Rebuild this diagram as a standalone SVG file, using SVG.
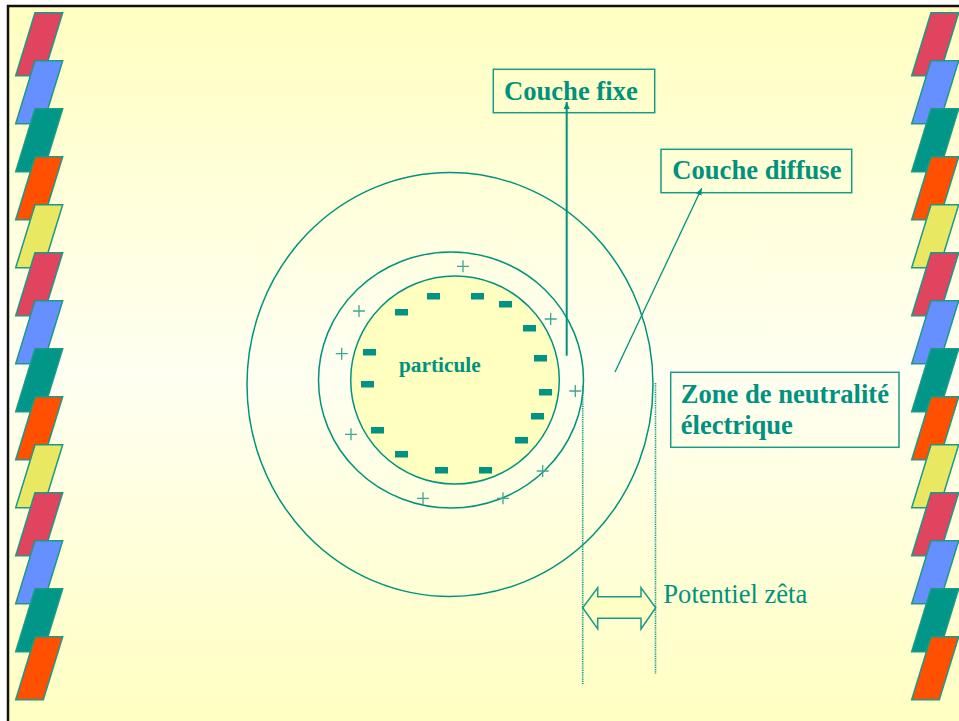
<svg xmlns="http://www.w3.org/2000/svg" width="959" height="721" viewBox="0 0 959 721">
  <defs>
    <linearGradient id="bg" x1="0" y1="0" x2="0" y2="1">
      <stop offset="0" stop-color="#FFFFC0"/>
      <stop offset="0.5" stop-color="#FFFFF2"/>
      <stop offset="1" stop-color="#FFFFC0"/>
    </linearGradient>
    <marker id="tip" markerWidth="8" markerHeight="8" refX="7" refY="4" orient="auto" markerUnits="userSpaceOnUse">
      <path d="M0,1 L7,4 L0,7 Z" fill="#00927F"/>
    </marker>
    <!-- one slanted tile of the side strips -->
    <path id="tile" d="M35,12.7 H62.7 L43.3,75.7 H15.7 Z" stroke="#1A9A88" stroke-width="1.5"/>
  </defs>
  <style>
    .lbl { font-family: "Liberation Serif", "Times New Roman", serif; fill: #00927F; }
    .b { font-weight: bold; }
    .box { fill: none; stroke: #1A9A88; stroke-width: 1.5; }
    .ring { fill: none; stroke: #00927F; stroke-width: 1.5; }
    .neg { fill: #009384; }
    .pos { stroke: #3FA596; stroke-width: 1.3; fill: none; }
    .dot { stroke: #0E9484; stroke-width: 1.6; stroke-dasharray: 1.2 1; fill: none; }
    .red { fill: #E0445E; } .blue { fill: #6690FF; } .teal { fill: #009688; }
    .orange { fill: #FF5000; } .yellow { fill: #E8E862; }
  </style>

  <!-- slide background with frame -->
  <rect x="0" y="0" width="959" height="721" fill="#FFFFFF"/>
  <rect x="8" y="6" width="960" height="730" fill="url(#bg)"/>
  <path d="M8,730 V6 H960" fill="none" stroke="#111111" stroke-width="2.5"/>

  <!-- left strip -->
  <g id="strip-left">
    <use href="#tile" class="red" y="0"/>
    <use href="#tile" class="blue" y="48"/>
    <use href="#tile" class="teal" y="96"/>
    <use href="#tile" class="orange" y="144"/>
    <use href="#tile" class="yellow" y="192"/>
    <use href="#tile" class="red" y="240"/>
    <use href="#tile" class="blue" y="288"/>
    <use href="#tile" class="teal" y="336"/>
    <use href="#tile" class="orange" y="384"/>
    <use href="#tile" class="yellow" y="432"/>
    <use href="#tile" class="red" y="480"/>
    <use href="#tile" class="blue" y="528"/>
    <use href="#tile" class="teal" y="576"/>
    <use href="#tile" class="orange" y="624"/>
  </g>

  <!-- right strip -->
  <g id="strip-right" transform="translate(896,0)">
    <use href="#tile" class="red" y="0"/>
    <use href="#tile" class="blue" y="48"/>
    <use href="#tile" class="teal" y="96"/>
    <use href="#tile" class="orange" y="144"/>
    <use href="#tile" class="yellow" y="192"/>
    <use href="#tile" class="red" y="240"/>
    <use href="#tile" class="blue" y="288"/>
    <use href="#tile" class="teal" y="336"/>
    <use href="#tile" class="orange" y="384"/>
    <use href="#tile" class="yellow" y="432"/>
    <use href="#tile" class="red" y="480"/>
    <use href="#tile" class="blue" y="528"/>
    <use href="#tile" class="teal" y="576"/>
    <use href="#tile" class="orange" y="624"/>
  </g>

  <!-- diffuse layer (outer ring) -->
  <g id="diffuse-layer">
    <ellipse class="ring" cx="450" cy="384.5" rx="203" ry="212"/>
  </g>

  <!-- fixed layer (middle ring) with positive charges -->
  <g id="fixed-layer">
    <ellipse class="ring" cx="451" cy="380" rx="132.5" ry="128"/>
    <path class="pos" d="M457,266.3 h12 M463,260.3 v12
                         M353,311 h12 M359,305 v12
                         M544.7,319 h12 M550.7,313 v12
                         M335.7,353.7 h12 M341.7,347.7 v12
                         M569.3,391 h12 M575.3,385 v12
                         M345,434.3 h12 M351,428.3 v12
                         M536.7,471 h12 M542.7,465 v12
                         M417,498.3 h12 M423,492.3 v12
                         M497,498.3 h12 M503,492.3 v12"/>
  </g>

  <!-- particle with negative surface charges -->
  <g id="particle">
    <ellipse cx="455" cy="380" rx="104.3" ry="104" fill="#FFFFC0" stroke="#00927F" stroke-width="1.5"/>
    <g class="neg">
      <rect x="427" y="293" width="13" height="6.5"/>
      <rect x="471" y="293" width="13" height="6.5"/>
      <rect x="499" y="301" width="13" height="6.5"/>
      <rect x="523" y="325" width="13" height="6.5"/>
      <rect x="534" y="355" width="13" height="6.5"/>
      <rect x="539" y="389" width="13" height="6.5"/>
      <rect x="531" y="413" width="13" height="6.5"/>
      <rect x="515" y="437" width="13" height="6.5"/>
      <rect x="479" y="467" width="13" height="6.5"/>
      <rect x="435" y="467" width="13" height="6.5"/>
      <rect x="395" y="451" width="13" height="6.5"/>
      <rect x="371" y="427" width="13" height="6.5"/>
      <rect x="361" y="381" width="13" height="6.5"/>
      <rect x="363" y="349" width="13" height="6.5"/>
      <rect x="395" y="309" width="13" height="6.5"/>
    </g>
    <text class="lbl b" x="399" y="372" font-size="21.3">particule</text>
  </g>

  <!-- labels -->
  <g id="label-couche-fixe">
    <rect class="box" x="493.3" y="69.3" width="161.4" height="43.4"/>
    <text class="lbl b" x="504" y="100" font-size="26.6">Couche fixe</text>
  </g>
  <g id="label-couche-diffuse">
    <rect class="box" x="661" y="149.3" width="190.7" height="43.4"/>
    <text class="lbl b" x="672.3" y="179.3" font-size="26.6">Couche diffuse</text>
  </g>
  <g id="label-zone">
    <rect class="box" x="670.7" y="372.3" width="228.3" height="75"/>
    <text class="lbl b" x="680.7" y="403.3" font-size="26.6">Zone de neutralité</text>
    <text class="lbl b" x="680.7" y="434" font-size="26.6">électrique</text>
  </g>
  <g id="label-zeta">
    <path d="M582.7,607.7 L597.7,587.7 V596.7 H641 V587.7 L655.7,607.7 L641,629 V618.3 H597.7 V629 Z"
          fill="#FFFFC4" stroke="#1A9A88" stroke-width="1.5" stroke-linejoin="miter"/>
    <text class="lbl" x="663.3" y="603.3" font-size="26.6">Potentiel zêta</text>
  </g>

  <!-- connectors -->
  <g id="connectors">
    <line x1="566.7" y1="355.7" x2="566.7" y2="102" stroke="#00927F" stroke-width="2" marker-end="url(#tip)"/>
    <line x1="615" y1="372" x2="701.7" y2="188.3" stroke="#00927F" stroke-width="1.3" marker-end="url(#tip)"/>
    <line class="dot" x1="582.7" y1="386" x2="582.7" y2="684"/>
    <line class="dot" x1="655.5" y1="383" x2="655.5" y2="674"/>
  </g>
</svg>
